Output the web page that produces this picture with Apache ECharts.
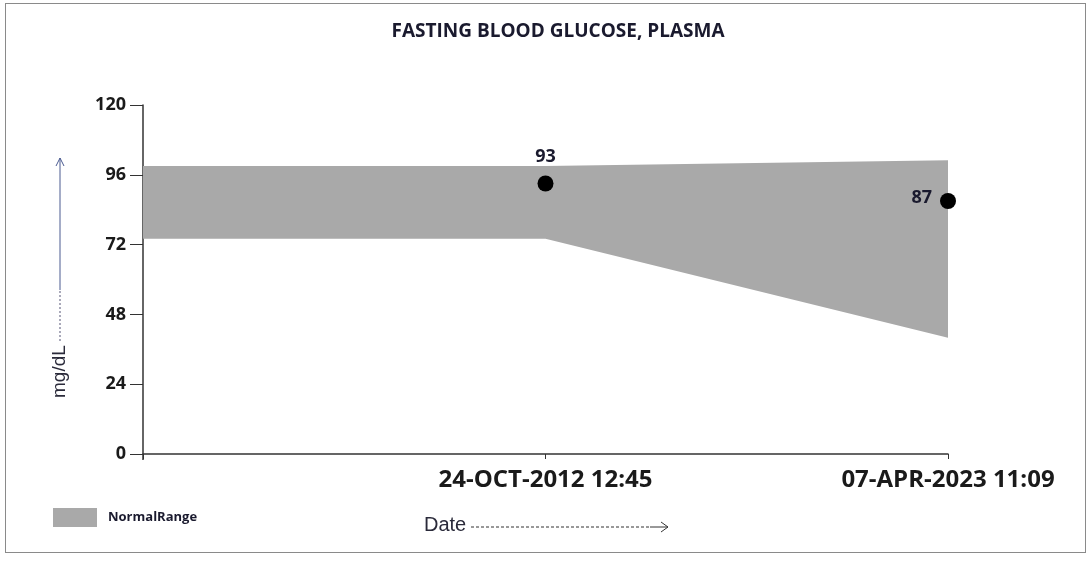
<!DOCTYPE html>
<html>
<head>
<meta charset="utf-8">
<script src="https://cdn.jsdelivr.net/npm/echarts@6/dist/echarts.min.js"></script>
<style>
  html, body { margin: 0; padding: 0; background: #fff; }
  #frame { position: absolute; left: 5px; top: 3px; width: 1079px; height: 548px; border: 1px solid #8a8a8a; }
  #chart { position: absolute; left: 0; top: 0; width: 1091px; height: 562px; }
</style>
</head>
<body>
<div id="frame"></div>
<div id="chart"></div>
<script>
  // dates on the x axis (first one is the empty start of the range)
  var dates = ['', '24-OCT-2012 12:45', '07-APR-2023 11:09']
  // normal range bounds, mg/dL
  var rangeLow = [74, 74, 40]
  var rangeHigh = [99, 99, 101]
  // measured values
  var glucose = ['-', 93, 87]
  var yTicks = { min: 0, max: 120, interval: 24 }

  var rangeSpan = []
  for (var i = 0; i < rangeLow.length; i++) {
    rangeSpan.push(rangeHigh[i] - rangeLow[i])
  }
  // last point gets its label on the left, others on top
  var glucosePts = glucose.map(function (v, i) {
    return {
      value: v,
      label: i === glucose.length - 1 ? { position: 'left', distance: 8, offset: [0, -3] } : { position: 'top', distance: 10 }
    }
  })

  var chart = echarts.init(document.getElementById('chart'))
  var lbl = '"Open Sans", "Noto Sans", sans-serif'
  var option = {
    animation: false,
    title: {
      text: 'FASTING BLOOD GLUCOSE, PLASMA',
      left: 553,
      textAlign: 'center',
      top: 17,
      textStyle: { fontFamily: lbl, fontSize: 19, fontWeight: 'bold', color: '#1a1a2e' }
    },
    legend: {
      data: ['NormalRange'],
      left: 48,
      top: 503,
      icon: 'rect',
      itemWidth: 44,
      itemHeight: 19,
      itemGap: 12,
      textStyle: { fontFamily: lbl, fontSize: 13, fontWeight: 'bold', color: '#1a1a2e', padding: [0, 0, 0, 6] }
    },
    grid: { left: 143, right: 143, top: 105, bottom: 108 },
    xAxis: {
      type: 'category',
      data: dates,
      boundaryGap: false,
      axisLine: { lineStyle: { color: '#333', width: 1.5 } },
      axisTick: { show: true, length: 5, lineStyle: { color: '#333' } },
      axisLabel: {
        margin: 14,
        fontFamily: lbl,
        fontSize: 24,
        fontWeight: 'bold',
        color: '#1a1a1a'
      },
      splitLine: { show: false }
    },
    yAxis: {
      type: 'value',
      min: yTicks.min,
      max: yTicks.max,
      interval: yTicks.interval,
      axisLine: { show: true, lineStyle: { color: '#333', width: 1.5 } },
      axisTick: { show: true, length: 13, lineStyle: { color: '#333' } },
      axisLabel: {
        margin: 17,
        fontFamily: lbl,
        fontSize: 18,
        fontWeight: 'bold',
        color: '#1a1a1a'
      },
      splitLine: { show: false }
    },
    series: [
      {
        name: 'base',
        type: 'line',
        stack: 'nr',
        data: rangeLow,
        symbol: 'none',
        lineStyle: { opacity: 0 },
        silent: true
      },
      {
        name: 'NormalRange',
        type: 'line',
        stack: 'nr',
        data: rangeSpan,
        symbol: 'none',
        itemStyle: { color: '#a9a9a9' },
        lineStyle: { width: 0 },
        areaStyle: { color: '#a9a9a9', opacity: 1 }
      },
      {
        name: 'Glucose',
        type: 'scatter',
        data: glucosePts,
        symbolSize: 16,
        itemStyle: { color: '#000', opacity: 1 },
        z: 5,
        label: {
          show: true,
          fontFamily: lbl,
          fontSize: 18,
          fontWeight: 'bold',
          color: '#1a1a2e'
        }
      }
    ],
    graphic: [
      // y axis name with arrow
      {
        type: 'text',
        x: 50, y: 398,
        rotation: Math.PI / 2,
        style: { text: 'mg/dL', font: '19px "Liberation Sans", Arial, sans-serif', fill: '#2a2a3a', align: 'left', verticalAlign: 'top' }
      },
      {
        type: 'line',
        shape: { x1: 60, y1: 341, x2: 60, y2: 290 },
        style: { stroke: '#555577', lineWidth: 1, lineDash: [2, 2] }
      },
      {
        type: 'line',
        shape: { x1: 60, y1: 290, x2: 60, y2: 158 },
        style: { stroke: '#4a5a90', lineWidth: 1 }
      },
      {
        type: 'polyline',
        shape: { points: [[56, 166], [60, 158], [64, 166]] },
        style: { stroke: '#4a5a90', lineWidth: 1, fill: null }
      },
      // y axis runs a little below zero, as in the original
      {
        type: 'line',
        shape: { x1: 143, y1: 455, x2: 143, y2: 460 },
        style: { stroke: '#333', lineWidth: 1.5 }
      },
      // x axis name with arrow
      {
        type: 'text',
        left: 424, top: 515,
        style: { text: 'Date', font: '20px "Liberation Sans", Arial, sans-serif', fill: '#2a2a3a' }
      },
      {
        type: 'line',
        shape: { x1: 471, y1: 527, x2: 650, y2: 527 },
        style: { stroke: '#333', lineWidth: 1, lineDash: [3, 2] }
      },
      {
        type: 'line',
        shape: { x1: 650, y1: 527, x2: 668, y2: 527 },
        style: { stroke: '#333', lineWidth: 1 }
      },
      {
        type: 'polyline',
        shape: { points: [[661, 522], [668, 527], [661, 532]] },
        style: { stroke: '#333', lineWidth: 1, fill: null }
      }
    ]
  }
  chart.setOption(option)
</script>
</body>
</html>
